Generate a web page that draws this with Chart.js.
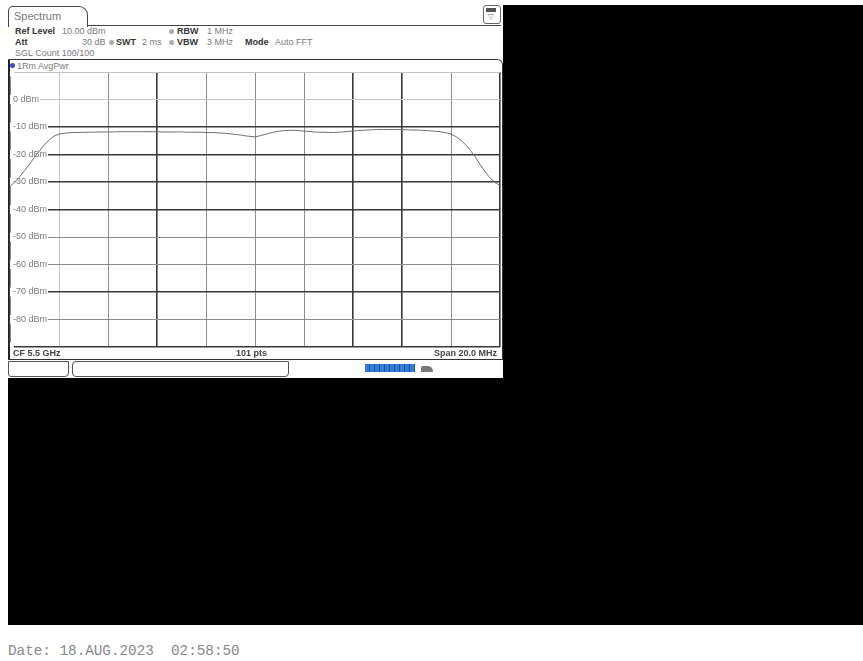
<!DOCTYPE html>
<html>
<head>
<meta charset="utf-8">
<script src="https://cdn.jsdelivr.net/npm/chart.js@4.4.0/dist/chart.umd.min.js"></script>
<style>
  html,body{margin:0;padding:0;background:#fff;}
  body{width:863px;height:661px;position:relative;overflow:hidden;font-family:"Liberation Sans",Arial,sans-serif;}
  .abs{position:absolute;}
  #black{left:8px;top:5px;width:855px;height:620px;background:#000;}
  #screen{left:8px;top:5px;width:495px;height:373px;background:#fff;}
  .t{position:absolute;font-size:9px;line-height:10px;white-space:nowrap;color:#7a7a7a;}
  .b{font-weight:bold;color:#333;}
  .dot{position:absolute;width:5px;height:5px;border-radius:50%;background:#aaa;}
</style>
</head>
<body>
<div id="black" class="abs"></div>
<div id="screen" class="abs"></div>

<!-- tab -->
<div class="abs" style="left:8px;top:6px;width:78px;height:20px;border:1.5px solid #444;border-bottom:none;border-radius:5px 9px 0 0;"></div>
<div class="t" style="left:14px;top:10px;font-size:11px;line-height:12px;color:#777;">Spectrum</div>
<div class="abs" style="left:87px;top:25px;width:414px;border-top:1.5px solid #444;"></div>
<!-- top right icon -->
<div class="abs" style="left:483px;top:5px;width:16px;height:17px;border:1px solid #666;border-radius:3px;background:#fff;"></div>
<div class="abs" style="left:486px;top:8px;width:10px;height:4px;background:#555;"></div>
<div class="t" style="left:488px;top:12px;font-size:7px;color:#666;">▽</div>

<!-- header -->
<div class="t b" style="left:15px;top:26px;">Ref Level</div>
<div class="t" style="left:62px;top:26px;">10.00 dBm</div>
<div class="dot" style="left:169px;top:29px;"></div>
<div class="t b" style="left:177px;top:26px;">RBW</div>
<div class="t" style="left:207px;top:26px;">1 MHz</div>

<div class="t b" style="left:15px;top:37px;">Att</div>
<div class="t" style="left:82px;top:37px;">30 dB</div>
<div class="dot" style="left:109px;top:40px;"></div>
<div class="t b" style="left:116px;top:37px;">SWT</div>
<div class="t" style="left:142px;top:37px;">2 ms</div>
<div class="dot" style="left:169px;top:40px;"></div>
<div class="t b" style="left:177px;top:37px;">VBW</div>
<div class="t" style="left:207px;top:37px;">3 MHz</div>
<div class="t b" style="left:245px;top:37px;">Mode</div>
<div class="t" style="left:275px;top:37px;">Auto FFT</div>

<div class="t" style="left:15px;top:48px;">SGL Count 100/100</div>

<!-- plot frame -->
<div class="abs" style="left:8px;top:59px;width:492px;height:299px;border:1.5px solid #333;border-left:2px solid #222;border-radius:0 6px 0 0;"></div>
<div class="dot" style="left:10px;top:63px;background:#3a4fc8;"></div>
<div class="t" style="left:17px;top:61px;">1Rm AvgPwr</div>

<canvas id="c" class="abs" width="494" height="279" style="left:8px;top:70px;"></canvas>

<!-- footer -->
<div class="t b" style="left:13px;top:348px;color:#444;">CF 5.5 GHz</div>
<div class="t b" style="left:236px;top:348px;color:#444;">101 pts</div>
<div class="t b" style="right:366px;top:348px;color:#444;">Span 20.0 MHz</div>

<!-- status bar -->
<div class="abs" style="left:8px;top:361px;width:59px;height:14px;border:1px solid #555;border-radius:0 0 4px 3px;"></div>
<div class="abs" style="left:72px;top:361px;width:215px;height:14px;border:1px solid #555;border-radius:4px 0 4px 4px;"></div>
<div class="abs" style="left:365px;top:364px;width:50px;height:8px;background:repeating-linear-gradient(90deg,#2f7fd6 0 4px,#1b4f9a 4px 5px);"></div>
<div class="abs" style="left:421px;top:366px;width:12px;height:6px;background:#777;border-radius:2px 6px 1px 1px;"></div>

<div class="abs" style="left:8px;top:643px;font-family:'Liberation Mono',monospace;font-size:14.3px;color:#888;white-space:nowrap;">Date: 18.AUG.2023&nbsp;&nbsp;02:58:50</div>

<script>
// Spectrum analyzer trace: CF 5.5 GHz, span 20 MHz, 101 points
const centerFreqGHz = 5.5;
const spanMHz = 20;
const pointCount = 101;
const yTicks = [10, 0, -10, -20, -30, -40, -50, -60, -70, -80, -90];
const yTickLabels = ['', '0 dBm', '-10 dBm', '-20 dBm', '-30 dBm', '-40 dBm', '-50 dBm', '-60 dBm', '-70 dBm', '-80 dBm', ''];
const traceDbm = [
  -31.5, -30.0, -28.0, -25.8, -23.5, -21.0, -18.7, -16.5, -14.7, -13.3,
  -12.6, -12.3, -12.1, -12.0, -12.0, -11.9, -11.9, -11.9, -11.8, -11.8,
  -11.8, -11.8, -11.7, -11.7, -11.7, -11.7, -11.7, -11.7, -11.7, -11.7,
  -11.7, -11.8, -11.8, -11.8, -11.8, -11.8, -11.9, -11.9, -11.9, -11.9,
  -12.0, -12.0, -12.1, -12.2, -12.3, -12.5, -12.7, -12.9, -13.2, -13.4,
  -13.6, -13.2, -12.7, -12.2, -11.8, -11.5, -11.3, -11.2, -11.2, -11.3,
  -11.5, -11.6, -11.8, -11.9, -11.9, -12.0, -12.0, -11.9, -11.8, -11.6,
  -11.5, -11.3, -11.2, -11.1, -11.0, -10.9, -10.9, -10.9, -10.9, -10.9,
  -11.0, -11.0, -11.1, -11.1, -11.2, -11.3, -11.4, -11.6, -11.8, -12.1,
  -12.6, -13.5, -14.8, -16.5, -18.6, -21.0, -23.8, -26.4, -28.6, -30.2,
  -31.2
];
// grid line styles by tick (dark / medium / light)
const xGridShade = ['d', 'l', 'm', 'd', 'm', 'm', 'm', 'd', 'd', 'm', 'd'];
const yGridShade = {'10': 'l', '0': 'l', '-10': 'd', '-20': 'd', '-30': 'd', '-40': 'd', '-50': 'm', '-60': 'm', '-70': 'd', '-80': 'm', '-90': 'd'};

const shadeColor = {d: '#383838', m: '#8c8c8c', l: '#c4c4c4'};
const shadeWidth = {d: 1.6, m: 1, l: 1};

const stepMHz = spanMHz / (pointCount - 1);
const points = traceDbm.map((v, i) => ({x: -spanMHz / 2 + i * stepMHz, y: v}));

new Chart(document.getElementById('c'), {
  type: 'line',
  data: {
    datasets: [{
      data: points,
      borderColor: '#6e6e6e',
      borderWidth: 1,
      pointRadius: 0,
      tension: 0,
      fill: false
    }]
  },
  options: {
    responsive: false,
    animation: false,
    devicePixelRatio: 1,
    layout: {padding: 2},
    plugins: {legend: {display: false}, tooltip: {enabled: false}},
    scales: {
      x: {
        type: 'linear',
        min: -spanMHz / 2,
        max: spanMHz / 2,
        ticks: {display: false, stepSize: 2},
        border: {display: false},
        grid: {
          drawTicks: false,
          color: ctx => shadeColor[xGridShade[ctx.index] || 'm'],
          lineWidth: ctx => shadeWidth[xGridShade[ctx.index] || 'm']
        },
        afterFit: s => { s.height = 0; }
      },
      y: {
        min: -90,
        max: 10,
        afterBuildTicks: s => { s.ticks = yTicks.map(v => ({value: v})); },
        ticks: {
          mirror: true,
          padding: 3,
          color: '#7a7a7a',
          font: {family: 'Liberation Sans', size: 9, lineHeight: 1},
          callback: v => yTickLabels[yTicks.indexOf(v)] || '',
          showLabelBackdrop: true,
          backdropColor: '#ffffff',
          backdropPadding: {left: 3, right: 1, top: 0, bottom: 0}
        },
        border: {display: false},
        grid: {
          drawTicks: false,
          color: ctx => shadeColor[yGridShade[String(ctx.tick.value)] || 'm'],
          lineWidth: ctx => shadeWidth[yGridShade[String(ctx.tick.value)] || 'm']
        },
        afterFit: s => { s.width = 0; s.paddingTop = 0; s.paddingBottom = 0; }
      }
    }
  }
});
</script>
</body>
</html>
